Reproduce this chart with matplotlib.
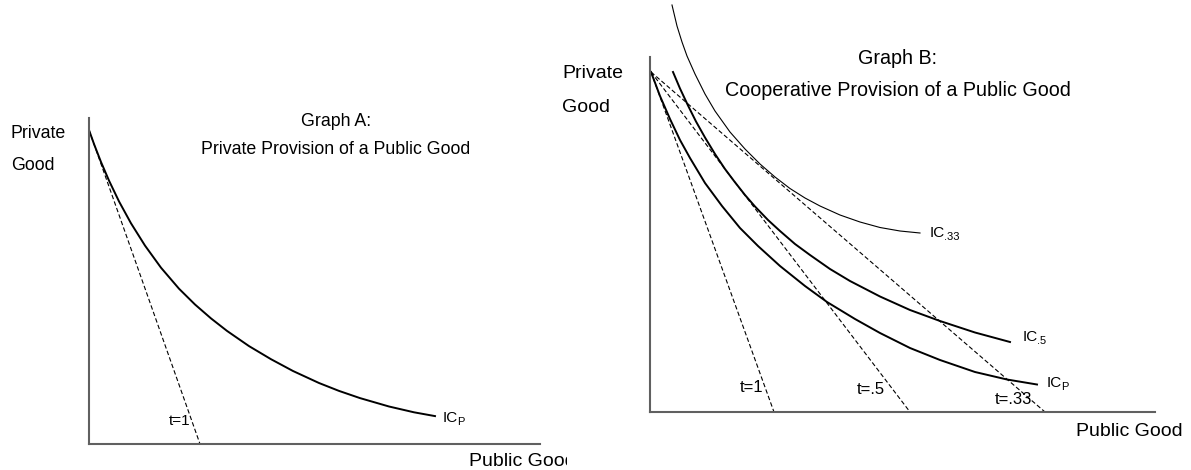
import matplotlib
matplotlib.use("Agg")
import matplotlib.pyplot as plt
from matplotlib.transforms import Bbox

plt.rcParams['font.family'] = ['Liberation Sans', 'DejaVu Sans']

# ---- Graph A: private provision (origin = axis corner)
a_icp_x = [0, 5, 12, 20, 30, 42, 56, 72, 90, 106, 122, 138, 160, 182, 204,
           230, 250, 271, 300, 325, 346]
a_icp_y = [314, 300, 282, 263.4, 242.6, 220.7, 198.4, 176.3, 155.3, 139.5,
           125.6, 113.1, 97.9, 84.8, 73, 61, 53.1, 45.9, 37.5, 31.7, 27.9]
a_budget_top = 314
a_budget_end = 111
a_tax_label = 't=1'

# ---- Graph B: cooperative provision
b_icp_x = [1, 10, 20, 30, 40, 55, 72, 90, 108, 130, 155, 177, 205, 230, 260,
           290, 325, 357, 387]
b_icp_y = [340, 316, 293, 272, 254, 229, 206, 184, 166, 146, 126, 110, 93,
           79, 64, 52, 40, 32.5, 27.5]
b_ic5_x = [23, 30, 38, 46, 55, 65, 75, 84, 95, 105, 118, 130, 145, 160, 180,
           200, 230, 260, 290, 325, 360]
b_ic5_y = [340, 323.5, 306.5, 290.5, 274.5, 258, 243, 231, 217, 205.5, 192,
           181, 168, 157, 143, 131, 115.5, 102, 91, 79.5, 70]
b_ic33_x = [22, 27, 32, 37, 45, 55, 65, 80, 95, 110, 125, 140, 155, 170, 190,
            210, 230, 250, 270]
b_ic33_y = [407, 386, 370, 356, 338, 318, 301, 280, 263, 248, 235, 223.5,
            214, 206, 197, 190, 184.5, 181, 179]
b_budget_top = 340
b_budget_end = [124, 260, 395]
b_tax_labels = ['t=1', 't=.5', 't=.33']

W, H = 1191, 470
fig = plt.figure(figsize=(W / 100, H / 100), dpi=100)


def px(x, y):
    # pixel position (from top-left) -> figure fraction
    return x / W, 1 - y / H


axA = fig.add_axes([89 / W, 26 / H, 451 / W, 326 / H])
axB = fig.add_axes([650 / W, 58 / H, 505 / W, 355 / H])
axA.set_xlim(0, 451)
axA.set_ylim(0, 326)
axB.set_xlim(0, 505)
axB.set_ylim(0, 355)
for ax in (axA, axB):
    ax.spines[['top', 'right']].set_visible(False)
    for s in ('left', 'bottom'):
        ax.spines[s].set_color('#606060')
        ax.spines[s].set_linewidth(1.5)
    ax.set_xticks([])
    ax.set_yticks([])
    ax.patch.set_alpha(0)

dash = dict(color='black', lw=0.8, dashes=(4, 2.2))

# Graph A curves
axA.plot(a_icp_x, a_icp_y, color='black', lw=1.4, solid_joinstyle='round')
axA.plot([0, a_budget_end], [a_budget_top, 0], **dash)

# Graph B curves
axB.plot(b_icp_x, b_icp_y, color='black', lw=1.4, solid_joinstyle='round')
axB.plot(b_ic5_x, b_ic5_y, color='black', lw=1.4, solid_joinstyle='round')
axB.plot(b_ic33_x, b_ic33_y, color='black', lw=0.8, clip_on=False,
         solid_joinstyle='round')
for end in b_budget_end:
    axB.plot([1, end], [b_budget_top, 0], **dash)

bigA = 12.8
bigB = 14.2


def ic_label(x, y, sub):
    # "IC" with a small subscript, as in the original drawing
    fig.text(*px(x, y), 'IC', fontsize=11, va='center')
    fig.text(*px(x + 14, y + 4), sub, fontsize=8, va='center')


# Graph A text
fig.text(*px(11, 133), 'Private', fontsize=bigA, va='center')
fig.text(*px(11, 165), 'Good', fontsize=bigA, va='center')
fig.text(*px(336, 122), 'Graph A:', fontsize=bigA, ha='center', va='center')
fig.text(*px(336, 150), 'Private Provision of a Public Good', fontsize=bigA,
         ha='center', va='center')
t = fig.text(*px(469, 461), 'Public Good', fontsize=14, va='center')
t.set_clip_box(Bbox.from_extents(0, 0, 567, H))
t.set_clip_on(True)
ic_label(443, 418, 'P')
fig.text(*px(190, 421), a_tax_label, ha='right', va='center', fontsize=11)

# Graph B text
fig.text(*px(562, 74), 'Private', fontsize=14, va='center')
fig.text(*px(562, 107), 'Good', fontsize=14, va='center')
fig.text(*px(898, 58), 'Graph B:', fontsize=bigB, ha='center', va='center')
fig.text(*px(898, 91), 'Cooperative Provision of a Public Good', fontsize=bigB,
         ha='center', va='center')
fig.text(*px(1076, 431), 'Public Good', fontsize=14, va='center')
ic_label(930, 233, '.33')
ic_label(1023, 337, '.5')
ic_label(1047, 383, 'P')
for lab, x, y in zip(b_tax_labels, [763, 885, 1032], [388, 390, 400]):
    fig.text(*px(x, y), lab, ha='right', va='center', fontsize=12)

fig.savefig('out.png', dpi=100)
